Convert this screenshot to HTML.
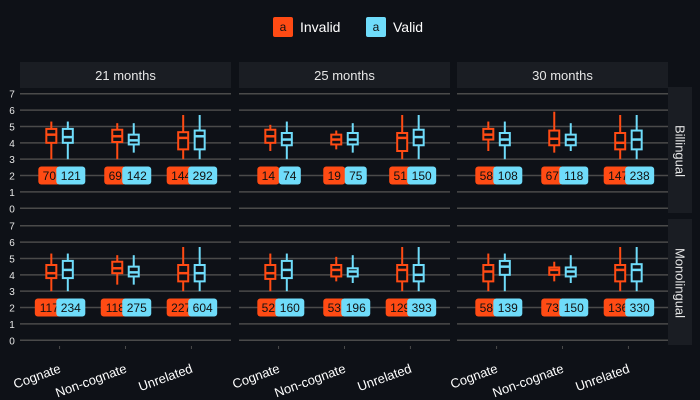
<!DOCTYPE html>
<html><head><meta charset="utf-8"><style>
html,body{margin:0;padding:0;background:#0e1117;}
svg{display:block;font-family:"Liberation Sans",Arial,sans-serif;}
</style></head><body>
<svg id="chart" width="700" height="400" viewBox="0 0 700 400">
<rect x="0" y="0" width="700" height="400" fill="#0e1117"/>
<g>
 <g>
  <rect x="273" y="17" width="20" height="20" rx="2" fill="#ff4b14"/>
  <text x="283" y="31" font-size="12" fill="#111" text-anchor="middle">a</text>
  <text x="300" y="32" font-size="14" fill="#fff">Invalid</text>
 </g>
 <g>
  <rect x="366" y="17" width="20" height="20" rx="2" fill="#6fdcfa"/>
  <text x="376" y="31" font-size="12" fill="#111" text-anchor="middle">a</text>
  <text x="393" y="32" font-size="14" fill="#fff">Valid</text>
 </g>
</g>
<g id="plot"></g>
</svg>
<script>
const ages = ["21 months","25 months","30 months"];
const langs = ["Billingual","Monolingual"];
const categories = ["Cognate","Non-cognate","Unrelated"];
const groups = ["Invalid","Valid"];
const yTicks = [0,1,2,3,4,5,6,7];
// stats: [lo, q1, median, q3, hi] per row(lang) -> panel(age) -> category -> group
const invalidStats = [
 [[[3,4,4.5,4.85,5.3],[3,4.05,4.4,4.8,5.2],[3,3.6,4.3,4.65,5.7]],
  [[3.5,4,4.4,4.8,5.1],[3.6,3.9,4.2,4.5,4.75],[3,3.5,4.3,4.6,5.7]],
  [[3.5,4.2,4.5,4.85,5.3],[3.4,3.85,4.25,4.75,5.9],[3,3.6,4,4.6,5.7]]],
 [[[3,3.8,4.1,4.6,5.3],[3.4,4.1,4.4,4.8,5.2],[3,3.6,4.1,4.6,5.7]],
  [[3,3.75,4.1,4.6,5.3],[3.6,3.9,4.3,4.6,5.1],[3,3.6,4.3,4.6,5.7]],
  [[3,3.6,4.2,4.6,5.3],[3.6,4,4.3,4.45,4.8],[3,3.6,4.3,4.6,5.7]]]
];
const validStats = [
 [[[3,4,4.35,4.85,5.3],[3.4,3.9,4.15,4.5,5.2],[3,3.6,4.4,4.75,5.7]],
  [[3,3.85,4.2,4.6,5.3],[3.4,3.9,4.2,4.6,5.2],[3,3.85,4.35,4.8,5.7]],
  [[3,3.85,4.2,4.6,5.3],[3.5,3.85,4.2,4.5,5.2],[3,3.6,4.2,4.75,5.7]]],
 [[[3,3.8,4.3,4.85,5.3],[3.4,3.9,4.15,4.5,5.2],[3,3.6,4.1,4.6,5.7]],
  [[3,3.8,4.3,4.85,5.3],[3.5,3.9,4.2,4.4,5.2],[3,3.6,4,4.6,5.7]],
  [[3,4,4.5,4.85,5.3],[3.5,3.9,4.2,4.45,5.2],[3,3.6,4.3,4.65,5.7]]]
];
const invalidCounts = [[[70,69,144],[14,19,51],[58,67,147]],[[117,118,227],[52,53,129],[58,73,136]]];
const validCounts = [[[121,142,292],[74,75,150],[108,118,238]],[[234,275,604],[160,196,393],[139,150,330]]];
const labelY = 2;

const NS="http://www.w3.org/2000/svg";
const plot=document.getElementById('plot');
function mk(tag,attrs,parent){const e=document.createElementNS(NS,tag);for(const k in attrs)e.setAttribute(k,attrs[k]);(parent||plot).appendChild(e);return e;}
const panelX=[20,239,457], panelW=211;
const rowTop=[88,220], rowH=126;
const yMin=-0.35, yMax=7.35;
function yScale(r,v){return rowTop[r]+rowH-(v-yMin)/(yMax-yMin)*rowH;}
function xScale(p,c){return panelX[p]+(c+1-0.4)/3.2*panelW;}
const dodge=0.125/3.2*panelW;
const colors=["#ff4b14","#6fdcfa"];

ages.forEach((a,p)=>{
 const g=mk('g',{});
 
 
 mk('rect',{x:panelX[p],y:62,width:panelW,height:26,fill:'#1a1d23'},g);
 const t=mk('text',{x:panelX[p]+panelW/2,y:80,'font-size':13,fill:'#e6e6e6','text-anchor':'middle'},g);t.textContent=a;
});
langs.forEach((l,r)=>{
 const g=mk('g',{});
 
 
 mk('rect',{x:668,y:rowTop[r]-1,width:24,height:rowH,fill:'#1a1d23'},g);
 const cy=rowTop[r]+rowH/2;
 const t=mk('text',{x:680,y:cy,'font-size':13,fill:'#e6e6e6','text-anchor':'middle','dominant-baseline':'central',transform:`rotate(90 680 ${cy})`},g);t.textContent=l;
});
langs.forEach((l,r)=>{
 yTicks.forEach(v=>{
  const t=mk('text',{x:12,y:yScale(r,v)+4,'font-size':10,fill:'#e6e6e6','text-anchor':'middle'});
  
  
  t.textContent=v;
 });
});
for(let r=0;r<2;r++)for(let p=0;p<3;p++){
 const g=mk('g',{});
 
 
 yTicks.forEach(v=>{mk('line',{x1:panelX[p],x2:panelX[p]+panelW,y1:yScale(r,v),y2:yScale(r,v),stroke:'#4a4a4a','stroke-width':1.5},g);});
 categories.forEach((c,ci)=>{
  [invalidStats,validStats].forEach((S,gi)=>{
   const s=S[r][p][ci]; const cx=xScale(p,ci)+(gi?dodge:-dodge);
   const bg=mk('g',{},g);
   
   
   mk('line',{x1:cx,x2:cx,y1:yScale(r,s[0]),y2:yScale(r,s[4]),stroke:colors[gi],'stroke-width':2},bg);
   mk('rect',{x:cx-5,y:yScale(r,s[3]),width:10,height:yScale(r,s[1])-yScale(r,s[3]),fill:'#0e1117',stroke:colors[gi],'stroke-width':2},bg);
   mk('line',{x1:cx-5,x2:cx+5,y1:yScale(r,s[2]),y2:yScale(r,s[2]),stroke:colors[gi],'stroke-width':2.5},bg);
  });
  [invalidCounts,validCounts].forEach((C,gi)=>{
   const n=C[r][p][ci]; const str=String(n);
   const w=str.length*7+8;
   const cx=xScale(p,ci)+(gi?dodge+3:-dodge-2);
   const lg=mk('g',{},g);
   
   
   const yy=yScale(r,labelY);
   mk('rect',{x:cx-w/2,y:yy-9,width:w,height:18,rx:3,fill:colors[gi]},lg);
   const t=mk('text',{x:cx,y:yy+4.5,'font-size':12,fill:'#111','text-anchor':'middle'},lg);t.textContent=str;
  });
 });
}
for(let p=0;p<3;p++){
 categories.forEach((c,ci)=>{
  const x=xScale(p,ci);
  mk('line',{x1:x,x2:x,y1:346,y2:349,stroke:'#4a4a4a','stroke-width':1});
  const t=mk('text',{x:x+2,y:372,'font-size':13,fill:'#fff','text-anchor':'end',transform:`rotate(-20 ${x+2} 372)`});
  
  
  t.textContent=c;
 });
}
</script>
</body></html>
